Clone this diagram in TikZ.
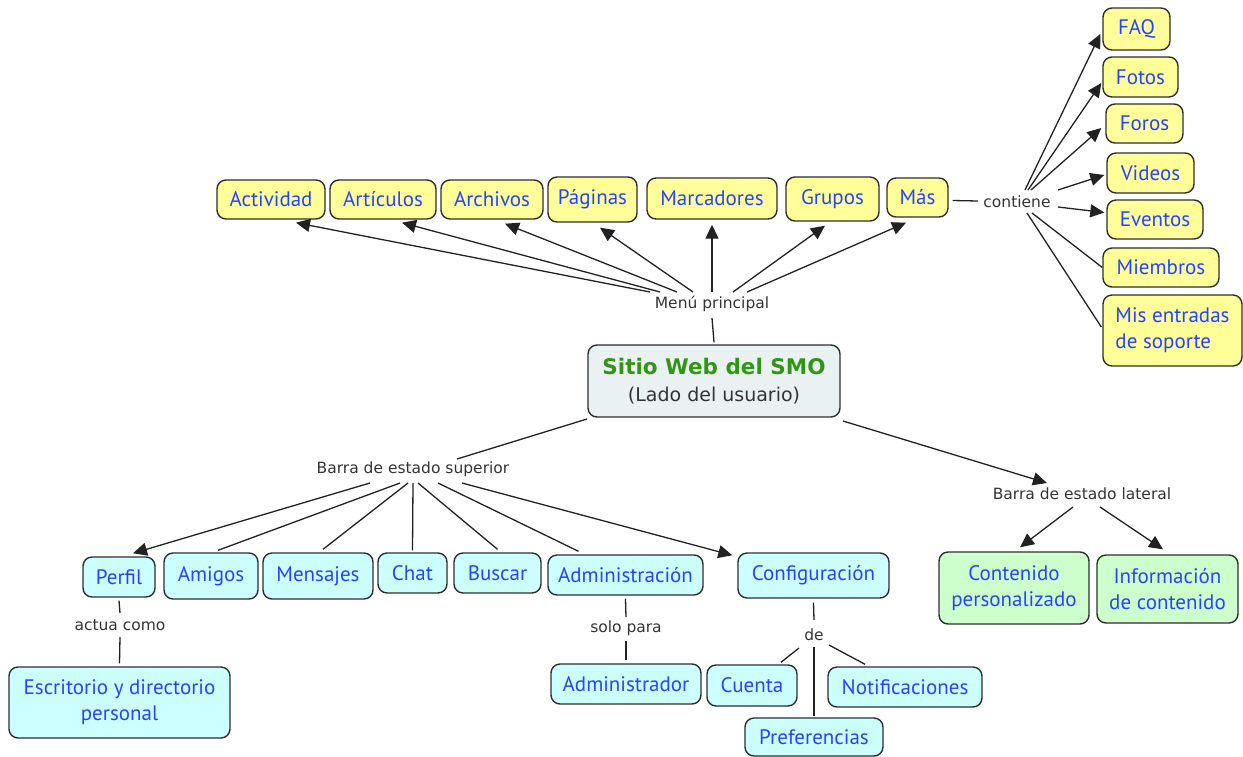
\documentclass[tikz,border=0pt]{standalone}
\usepackage{fontspec}
\setmainfont{PT Sans}
\newfontfamily\lblfont{DejaVu Sans}
\usetikzlibrary{arrows.meta,calc}

\definecolor{ybg}{HTML}{FFFF99}
\definecolor{cbg}{HTML}{CCFFFF}
\definecolor{gbg}{HTML}{CCFFCC}
\definecolor{cenbg}{HTML}{E9F1F3}
\definecolor{bordc}{HTML}{2E2E2E}
\definecolor{txtblue}{RGB}{38,68,255}
\definecolor{titlegreen}{RGB}{50,150,20}
\definecolor{lblc}{HTML}{333333}
\definecolor{linec}{HTML}{222222}

\begin{document}
\begin{tikzpicture}[x=1pt,y=-1pt,
  box/.style={draw=bordc, line width=1.4pt, rounded corners=9pt, text=txtblue,
    font=\fontsize{21}{26}\selectfont, align=center, inner sep=0pt},
  ybox/.style={box, fill=ybg},
  cbox/.style={box, fill=cbg},
  gbox/.style={box, fill=gbg},
  sz/.style 2 args={minimum width=#1pt, minimum height=#2pt},
  lbl/.style={font=\lblfont\fontsize{15.5}{18}\selectfont, text=lblc, inner sep=1pt},
  link/.style={draw=linec, line width=1.3pt},
  arr/.style={link, -{Triangle[length=14pt,width=13pt]}}]

\useasboundingbox (0,0) rectangle (1243,756);

% central concept
\node[box, fill=cenbg, sz={252}{72}, font=\lblfont\fontsize{19}{27}\selectfont] (smo) at (714,381)
  {{\color{titlegreen}\bfseries\fontsize{21.5}{27}\selectfont Sitio Web del SMO}\\{\color{lblc}(Lado del usuario)}};

% main menu entries
\node[ybox, sz={108}{39}] (act) at (271,199.5) {Actividad};
\node[ybox, sz={106}{39}] (art) at (383,199.5) {Artículos};
\node[ybox, sz={102}{39}] (arc) at (492,199.5) {Archivos};
\node[ybox, sz={89}{45}]  (pag) at (592.5,199.5) {Páginas};
\node[ybox, sz={130}{41}] (mar) at (712,198.5) {Marcadores};
\node[ybox, sz={93}{44}]  (gru) at (832.5,199) {Grupos};
\node[ybox, sz={61}{39}]  (mas) at (917.5,197.5) {Más};

% contents of "Más"
\node[ybox, sz={67}{42}]  (faq) at (1136.5,29) {FAQ};
\node[ybox, sz={75}{40}]  (fot) at (1140.5,77) {Fotos};
\node[ybox, sz={77}{39}]  (for) at (1144.5,123.5) {Foros};
\node[ybox, sz={87}{40}]  (vid) at (1150.5,173) {Videos};
\node[ybox, sz={96}{39}]  (eve) at (1155,219.5) {Eventos};
\node[ybox, sz={116}{39}] (mie) at (1161,267.5) {Miembros};
\node[ybox, sz={139}{71}, align=left] (mis) at (1172.5,330.5) {Mis entradas\\de soporte};

% top status bar entries
\node[cbox, sz={72}{40}]  (per) at (119,577) {Perfil};
\node[cbox, sz={94}{46}]  (ami) at (211,576) {Amigos};
\node[cbox, sz={110}{46}] (men) at (318,576) {Mensajes};
\node[cbox, sz={69}{40}]  (cha) at (412.5,573) {Chat};
\node[cbox, sz={87}{40}]  (bus) at (497.5,573) {Buscar};
\node[cbox, sz={155}{40}] (adm) at (625.5,575) {Administración};
\node[cbox, sz={151}{45}] (cfg) at (813.5,575.5) {Configuración};

\node[cbox, sz={221}{71}] (esc) at (119.5,702.5) {Escritorio y directorio\\personal};
\node[cbox, sz={150}{40}] (adr) at (626,684) {Administrador};
\node[cbox, sz={90}{41}]  (cue) at (752,685.5) {Cuenta};
\node[cbox, sz={154}{40}] (not) at (905,687) {Notificaciones};
\node[cbox, sz={138}{38}] (pre) at (814,737) {Preferencias};

% side status bar entries
\node[gbox, sz={150}{72}] (con) at (1014,588) {Contenido\\personalizado};
\node[gbox, sz={141}{68}] (inf) at (1167.5,589) {Información\\de contenido};

% linking phrases
\node[lbl] (menu) at (712,304) {Menú principal};
\node[lbl] (cont) at (1017,202) {contiene};
\node[lbl] (bsup) at (413,469) {Barra de estado superior};
\node[lbl] (blat) at (1082,494) {Barra de estado lateral};
\node[lbl] (actua) at (120,625) {actua como};
\node[lbl] (solo) at (626,628) {solo para};
\node[lbl] (de) at (814,635) {de};

% main menu
\draw[link] ($(menu)+(0,14)$) -- ($(smo.north)+(0,-2)$);
\draw[arr] ($(menu)+(-62,-12)$) -- ($(act.south)+(25,3)$);
\draw[arr] ($(menu)+(-52,-12)$) -- ($(art.south)+(19,3)$);
\draw[arr] ($(menu)+(-35,-12)$) -- ($(arc.south)+(13,4)$);
\draw[arr] ($(menu)+(-19,-12)$) -- ($(pag.south)+(7.5,5)$);
\draw[arr] ($(menu)+(0,-12)$) -- ($(mar.south)+(0,5)$);
\draw[arr] ($(menu)+(21,-12)$) -- ($(gru.south)+(-7.5,4)$);
\draw[arr] ($(menu)+(35,-12)$) -- ($(mas.south)+(-11.5,5)$);

% "Más" contains
\draw[link] ($(mas.east)+(4,3)$) -- ($(cont)+(-39,-1)$);
\draw[arr] ($(cont)+(8,-12)$) -- ($(faq.west)+(-2,5)$);
\draw[arr] ($(cont)+(11,-12)$) -- ($(fot.west)+(-1,6)$);
\draw[arr] ($(cont)+(14,-12)$) -- ($(for.west)+(-4,4.5)$);
\draw[arr] ($(cont)+(41,-12)$) -- ($(vid.west)+(-2,2)$);
\draw[arr] ($(cont)+(41,5)$) -- ($(eve.west)+(-2,-7)$);
\draw[link] ($(cont)+(15,11)$) -- (mie.west);
\draw[link] ($(cont)+(10,11)$) -- ($(mis.west)+(-1,-3.5)$);

% top status bar
\draw[link] ($(smo)+(-127,38)$) -- ($(bsup)+(44,-10)$);
\draw[arr] ($(bsup)+(-43,14)$) -- ($(per.north)+(14,-3)$);
\draw[link] ($(bsup)+(-13,14)$) -- ($(ami.north)+(7,-2)$);
\draw[link] ($(bsup)+(-5,14)$) -- ($(men.north)+(5,-3)$);
\draw[link] ($(bsup)+(0,14)$) -- ($(cha.north)+(0,-2)$);
\draw[link] ($(bsup)+(5,14)$) -- ($(bus.north)+(0,-3)$);
\draw[link] ($(bsup)+(25,14)$) -- ($(adm.north)+(-47,-3)$);
\draw[arr] ($(bsup)+(49,14)$) -- ($(cfg.north west)+(-5,3)$);

\draw[link] ($(per.south)+(0,3)$) -- ($(actua)+(0,-12)$);
\draw[link] ($(actua)+(0,12)$) -- ($(esc.north)+(0,-3)$);
\draw[link] ($(adm.south)+(0,3)$) -- ($(solo)+(0,-11)$);
\draw[link] ($(solo)+(0,13)$) -- ($(adr.north)+(0,-3)$);
\draw[link] ($(cfg.south)+(0,4)$) -- ($(de)+(0,-15)$);
\draw[link] ($(de)+(-15,13)$) -- ($(cue.north)+(29,-2)$);
\draw[link] ($(de)+(15,10)$) -- ($(not.north)+(-40,-2)$);
\draw[link] ($(de)+(0,12)$) -- ($(pre.north)+(0,-1)$);

% side status bar
\draw[arr] ($(smo)+(129,40)$) -- ($(blat)+(-35,-11)$);
\draw[arr] ($(blat)+(-9,13)$) -- ($(con.north)+(6,-4)$);
\draw[arr] ($(blat)+(18,13)$) -- ($(inf.north)+(-4.5,-5)$);
\end{tikzpicture}
\end{document}
